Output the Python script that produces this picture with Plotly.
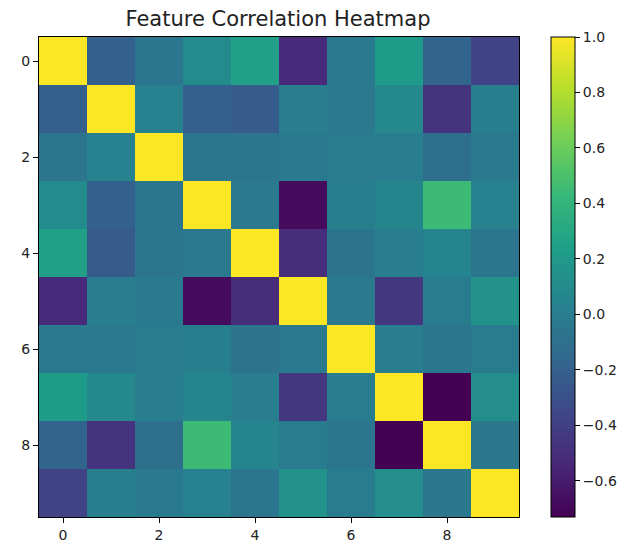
import plotly.graph_objects as go
import numpy as np

features = list(range(10))
# upper triangle values (row i, columns i+1..9)
upper = {
    0: [-0.20, -0.05, 0.10, 0.25, -0.52, -0.02, 0.22, -0.17, -0.38],
    1: [0.03, -0.20, -0.23, 0.00, -0.03, 0.08, -0.47, 0.02],
    2: [-0.05, -0.06, -0.02, -0.01, 0.00, -0.10, -0.02],
    3: [-0.03, -0.68, 0.02, 0.06, 0.45, 0.03],
    4: [-0.50, -0.07, 0.00, 0.05, -0.05],
    5: [-0.03, -0.45, -0.01, 0.15],
    6: [0.01, -0.06, -0.01],
    7: [-0.73, 0.12],
    8: [-0.04],
}
n = len(features)
corr = np.eye(n)
for i, vals in upper.items():
    for k, v in enumerate(vals):
        j = i + 1 + k
        corr[i, j] = v
        corr[j, i] = v

W, H = 644, 549
L, T = 39, 37
R = W - 519
B = H - 517

fig = go.Figure(go.Heatmap(
    z=corr, x=features, y=features, colorscale="Viridis",
    zmin=corr.min(), zmax=1.0,
    colorbar=dict(
        thickness=24, len=1.0, lenmode="fraction", x=(551 - L) / 480, xanchor="left",
        xpad=0, ypad=0,
        y=0.5, yanchor="middle", outlinewidth=1, outlinecolor="black",
        tickvals=[-0.6, -0.4, -0.2, 0.0, 0.2, 0.4, 0.6, 0.8, 1.0],
        ticktext=["\u22120.6", "\u22120.4", "\u22120.2", "0.0", "0.2", "0.4", "0.6", "0.8", "1.0"],
        ticks="outside", ticklen=5, tickcolor="black",
        tickfont=dict(size=14, color="#222"),
    ),
))
axis_common = dict(
    tickvals=[0, 2, 4, 6, 8], ticks="outside", ticklen=5, tickcolor="black",
    showline=True, linecolor="black", mirror=True, showgrid=False, zeroline=False,
    tickfont=dict(size=14, color="#222"),
)
fig.update_xaxes(range=[-0.5, 9.5], automargin=False, **axis_common)
fig.update_yaxes(range=[9.5, -0.5], automargin=False, **axis_common)
fig.update_layout(
    width=W, height=H,
    margin=dict(l=L, r=R, t=T, b=B, autoexpand=False),
    title=dict(text="Feature Correlation Heatmap", x=278 / W, xanchor="center",
               y=1 - 19 / H, yanchor="middle", font=dict(size=21, color="#222")),
    font=dict(family="DejaVu Sans"),
    plot_bgcolor="white", paper_bgcolor="white",
)
fig.write_html("out.html", config={"displayModeBar": False},
               post_script="document.body.style.margin='0';")
